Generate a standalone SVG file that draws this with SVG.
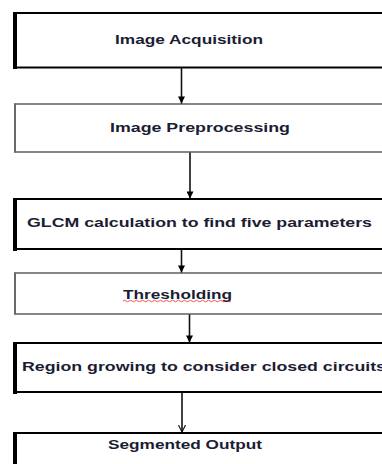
<svg xmlns="http://www.w3.org/2000/svg" width="382" height="464" viewBox="0 0 382 464">
<style>
.box{fill:#fff;stroke:#000;stroke-width:2}
.lbox{fill:#fff;stroke:#6a6a6a;stroke-width:1.6}
.thick{stroke:#000;stroke-width:4;fill:none}
.thin{stroke:#6a6a6a;stroke-width:2;fill:none}
.t{font-family:"Liberation Sans",Arial,sans-serif;font-weight:bold;font-size:12px;fill:#1b1d33}
.c{stroke:#111;stroke-width:1.6;fill:none}
</style>
<defs>
<marker id="ah" viewBox="0 0 10 10" refX="10" refY="5" markerWidth="9" markerHeight="7" markerUnits="userSpaceOnUse" orient="auto">
<path d="M0,0 L10,5 L0,10 z" fill="#000"/>
</marker>
<marker id="av" viewBox="0 0 10 10" refX="10" refY="5" markerWidth="7" markerHeight="10" markerUnits="userSpaceOnUse" orient="auto">
<path d="M0,0 L10,5 L0,10" fill="none" stroke="#111" stroke-width="1.6"/>
</marker>
</defs>
<rect width="382" height="464" fill="#fff"/>
<g id="n1">
<rect class="box" x="15" y="13" width="380" height="54.5"/>
<line class="thick" x1="15" y1="12" x2="15" y2="69"/>
<text class="t" x="115" y="44" textLength="148" lengthAdjust="spacingAndGlyphs">Image Acquisition</text>
</g>
<g id="n2">
<rect class="lbox" x="15" y="104" width="380" height="48"/>
<line class="thin" x1="15" y1="103.5" x2="15" y2="152.5"/>
<text class="t" x="110" y="132" textLength="180" lengthAdjust="spacingAndGlyphs">Image Preprocessing</text>
</g>
<g id="n3">
<rect class="box" x="15" y="199" width="380" height="50"/>
<line class="thick" x1="15" y1="198" x2="15" y2="251"/>
<text class="t" x="27" y="227" textLength="345" lengthAdjust="spacingAndGlyphs">GLCM calculation to find  five parameters</text>
</g>
<g id="n4">
<rect class="lbox" x="15" y="273" width="380" height="41"/>
<line class="thin" x1="15" y1="272.5" x2="15" y2="314.5"/>
<text class="t" x="123" y="298.5" textLength="109" lengthAdjust="spacingAndGlyphs">Thresholding</text>
<path d="M123,301 q1.5,-1.5 3,0 t3,0 t3,0 t3,0 t3,0 t3,0 t3,0 t3,0 t3,0 t3,0 t3,0 t3,0 t3,0 t3,0 t3,0 t3,0 t3,0 t3,0 t3,0 t3,0 t3,0 t3,0 t3,0 t3,0 t3,0 t3,0 t3,0 t3,0 t3,0 t3,0 t3,0 t3,0 t3,0 t3,0 t3,0 t3,0" fill="none" stroke="#e0302a" stroke-width="0.8"/>
</g>
<g id="n5">
<rect class="box" x="15" y="343" width="380" height="49"/>
<line class="thick" x1="15" y1="342" x2="15" y2="394"/>
<text class="t" x="22" y="371" textLength="364" lengthAdjust="spacingAndGlyphs">Region growing to consider  closed circuits</text>
</g>
<g id="n6">
<rect class="box" x="15" y="433" width="380" height="60"/>
<line class="thick" x1="15" y1="432" x2="15" y2="464"/>
<text class="t" x="108" y="449" textLength="154" lengthAdjust="spacingAndGlyphs">Segmented Output</text>
</g>
<g id="connectors">
<line class="c" x1="181.5" y1="68" x2="181.5" y2="103.5" marker-end="url(#ah)"/>
<line class="c" x1="190" y1="152.5" x2="190" y2="198.5" marker-end="url(#ah)"/>
<line class="c" x1="181.5" y1="249.5" x2="181.5" y2="272.5" marker-end="url(#ah)"/>
<line class="c" x1="189.5" y1="314.5" x2="189.5" y2="342.5" marker-end="url(#ah)"/>
<line class="c" x1="182" y1="392.5" x2="182" y2="432" marker-end="url(#av)"/>
</g>
</svg>
